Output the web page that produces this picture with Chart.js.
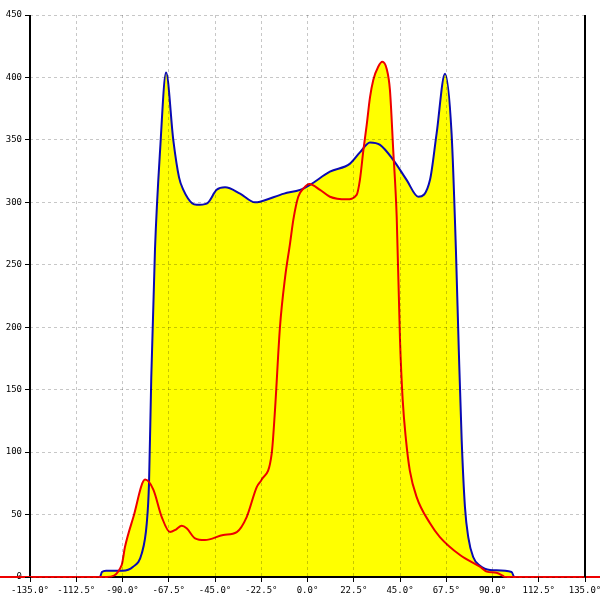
<!DOCTYPE html>
<html>
<head>
<meta charset="utf-8">
<script src="https://cdn.jsdelivr.net/npm/chart.js@4/dist/chart.umd.min.js"></script>
<style>
  body { margin: 0; background: #fff; }
  canvas { display: block; }
</style>
</head>
<body>
<canvas id="chart" width="600" height="600"></canvas>
<script>
// valores (angulo em graus -> valor)
const blueAngles = [-150, -101, -100, -98, -90, -85, -80.6, -78.2, -77.1, -76, -74.2, -71.7, -68.8, -65.3, -62.5, -60.4, -56, -53.9, -49, -44.2, -40.1, -32.8, -25.5, -23.1, -11.4, -3.6, 1.2, 10.9, 20.7, 25.5, 30.4, 35.3, 41.7, 48.2, 53.9, 59.6, 62.8, 66.9, 70.1, 72.2, 73.6, 75, 76.6, 78.2, 80.6, 83.9, 88.8, 99.3, 100.6, 145];
const blueValues = [0, 0, 4, 5, 5, 8, 19, 43, 75, 160, 262, 342, 404, 350, 320, 310, 299, 298, 299, 310, 312, 307, 300, 300.5, 307, 310, 314, 324.5, 331, 340, 348, 346, 334, 318, 304.5, 318, 355, 403, 355, 262, 182, 110, 56, 32, 16, 9, 5.6, 4, 0, 0];

const redAngles = [-150, -97.7, -90.4, -88.8, -84.7, -79, -75, -70.9, -66.9, -64, -61.2, -58.8, -54.7, -49.9, -41, -34.4, -29.6, -24.7, -22.3, -17.4, -15.8, -13.4, -10.9, -8.5, -6.9, -4.5, -2, 0.9, 6.1, 10.9, 19.1, 23.9, 25.5, 27.2, 28.8, 30.4, 32, 34.4, 36.4, 38.5, 40.1, 41.7, 43.4, 45, 46.3, 47.9, 49.8, 53.1, 59.6, 64.4, 74.2, 83.9, 87.2, 91.9, 95.2, 96, 145];
const redValues = [0, 0, 9.6, 24, 48, 78, 70, 48, 36, 38, 41, 39, 31, 29.6, 33.6, 36, 48, 72, 78, 99, 134, 200, 240, 267, 286, 304.5, 311, 314.6, 310, 304.5, 302.4, 306, 318, 342, 362, 384, 398, 408.6, 412.6, 407, 390, 342, 288, 190, 142, 110, 85, 64, 43, 32, 17.6, 8.2, 4.3, 3.4, 0.8, 0, 0];

const xTicks = [-135, -112.5, -90, -67.5, -45, -22.5, 0, 22.5, 45, 67.5, 90, 112.5, 135];
const yTicks = [0, 50, 100, 150, 200, 250, 300, 350, 400, 450];

const toPoints = (xs, ys) => xs.map((x, i) => ({ x: x, y: ys[i] }));

// bordas pretas: esquerda e base por baixo das linhas, direita por cima
const frameLines = {
  id: "frameLines",
  beforeDatasetsDraw: (chart) => {
    const { ctx, chartArea } = chart;
    ctx.save();
    ctx.strokeStyle = "#000";
    ctx.lineWidth = 2;
    ctx.beginPath();
    ctx.moveTo(chartArea.left, chartArea.top);
    ctx.lineTo(chartArea.left, chartArea.bottom);
    ctx.lineTo(chartArea.right, chartArea.bottom);
    ctx.stroke();
    ctx.restore();
  },
  afterDraw: (chart) => {
    const { ctx, chartArea } = chart;
    ctx.save();
    ctx.strokeStyle = "#000";
    ctx.lineWidth = 2;
    ctx.beginPath();
    ctx.moveTo(chartArea.right, chartArea.top);
    ctx.lineTo(chartArea.right, chartArea.bottom);
    ctx.stroke();
    ctx.restore();
  }
};

const tickFont = { family: "DejaVu Sans Mono", size: 9 };

const gridOpts = {
  color: "rgba(0,0,0,0.22)",
  tickColor: "#000",
  tickLength: 5,
  tickBorderDash: [1, 0],
  z: 1
};

new Chart(document.getElementById("chart").getContext("2d"), {
  type: "line",
  data: {
    datasets: [
      {
        data: toPoints(redAngles, redValues),
        borderColor: "#ee0000",
        backgroundColor: "#ffff00",
        borderWidth: 2,
        fill: "origin",
        pointRadius: 0,
        cubicInterpolationMode: "monotone",
        clip: false
      },
      {
        data: toPoints(blueAngles, blueValues),
        borderColor: "#0a0ab4",
        backgroundColor: "#ffff00",
        borderWidth: 2,
        fill: "origin",
        pointRadius: 0,
        cubicInterpolationMode: "monotone",
        clip: false
      }
    ]
  },
  options: {
    responsive: false,
    animation: false,
    layout: { padding: { top: 15, right: 15, left: 0, bottom: 0 } },
    plugins: {
      legend: { display: false },
      tooltip: { enabled: false },
      filler: { drawTime: "beforeDatasetsDraw" }
    },
    scales: {
      x: {
        type: "linear",
        min: -135,
        max: 135,
        afterBuildTicks: (s) => { s.ticks = xTicks.map(v => ({ value: v })); },
        afterFit: (s) => { s.height = 23; s.paddingLeft = 0; s.paddingRight = 0; },
        ticks: {
          font: tickFont,
          color: "#000",
          padding: 3,
          maxRotation: 0,
          autoSkip: false,
          callback: (v) => v.toFixed(1) + "°"
        },
        grid: gridOpts,
        border: { display: false, dash: [3, 3] }
      },
      y: {
        min: 0,
        max: 450,
        afterBuildTicks: (s) => { s.ticks = yTicks.map(v => ({ value: v })); },
        afterFit: (s) => { s.width = 30; s.paddingTop = 0; s.paddingBottom = 0; },
        ticks: {
          font: tickFont,
          color: "#000",
          padding: 3
        },
        grid: gridOpts,
        border: { display: false, dash: [3, 3] }
      }
    }
  },
  plugins: [frameLines]
});
</script>
</body>
</html>
